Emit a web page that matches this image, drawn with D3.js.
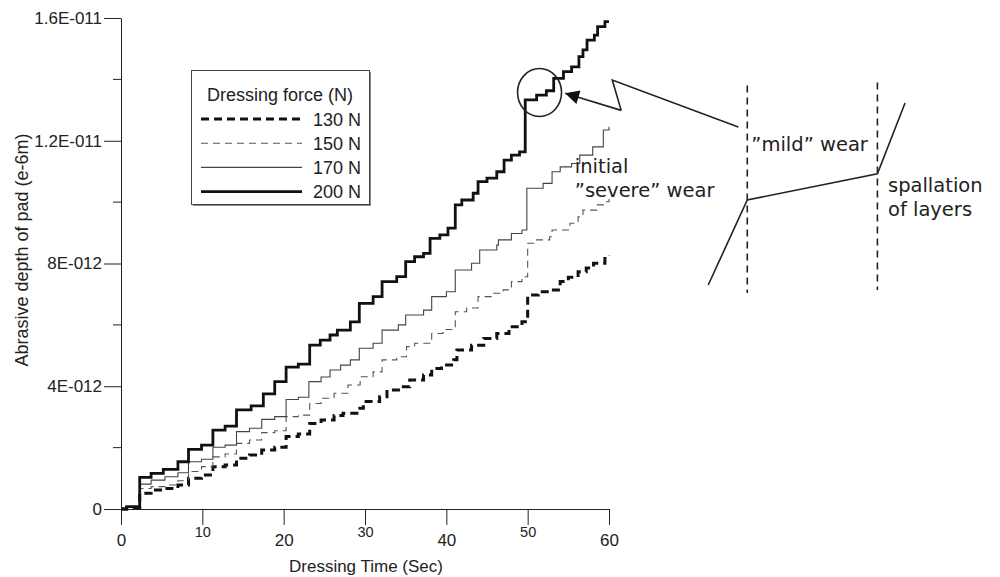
<!DOCTYPE html>
<html><head><meta charset="utf-8">
<script src="https://cdn.jsdelivr.net/npm/d3@7"></script>
<style>body{margin:0;background:#fff}svg{display:block}</style>
</head><body><svg id="c" width="1000" height="577"></svg>
<script>
// values in units of 1E-012 (e-6m)
const seriesNames = ["130 N", "150 N", "170 N", "200 N"];

const t130 = [0,0.7,2.3,3.7,5.4,7.0,8.3,9.9,11.3,12.8,14.2,15.8,17.3,18.9,20.3,21.8,23.2,24.6,26.2,27.3,29.0,29.8,31.8,32.7,34.5,35.5,37.2,38.2,39.4,40.9,41.3,43.1,44.6,46.2,47.7,49.3,50.0,51.3,52.7,54.0,55.0,56.2,57.2,58.1,59.5,60];
const v130 = [0,0.04,0.51,0.62,0.67,0.78,1.00,1.11,1.38,1.43,1.65,1.76,1.92,2.01,2.36,2.44,2.79,2.90,3.05,3.12,3.28,3.50,3.66,3.88,3.98,4.20,4.37,4.58,4.69,4.86,5.18,5.34,5.56,5.72,5.94,6.10,6.97,7.08,7.14,7.41,7.55,7.73,7.85,8.01,8.22,8.25];

const t150 = [0,0.7,2.3,3.7,5.4,7.0,8.3,9.9,11.3,12.8,14.2,15.8,17.3,18.9,20.3,21.8,23.2,24.6,26.2,27.9,29.4,31.0,32.1,33.9,35.1,36.1,38.2,39.6,41.1,42.5,43.9,45.5,47.0,48.0,49.3,50.0,51.1,52.7,53.0,55.2,56.2,56.8,58.5,59.3,60];
const v150 = [0,0.05,0.67,0.73,0.78,0.92,1.22,1.38,1.70,1.79,2.14,2.25,2.49,2.55,3.01,3.06,3.44,3.61,3.77,4.04,4.31,4.47,4.86,4.96,5.29,5.40,5.72,5.85,6.43,6.55,6.92,7.03,7.14,7.41,7.57,8.66,8.77,8.87,9.09,9.31,9.52,9.74,9.91,10.01,10.10];

const t170 = [0,0.7,2.3,3.7,5.4,7.0,8.3,9.9,11.3,12.8,14.2,15.8,17.3,18.9,20.3,21.8,23.1,24.6,25.7,27.0,28.2,29.3,31.0,32.1,34.1,35.0,37.2,38.2,40.0,41.1,43.1,44.1,46.2,46.4,48.0,49.3,49.9,51.9,53.0,54.0,55.4,56.4,58.0,59.3,60];
const v170 = [0,0.06,0.81,0.94,1.05,1.18,1.54,1.62,2.01,2.08,2.52,2.63,2.92,3.01,3.57,3.64,4.15,4.30,4.53,4.69,4.86,5.24,5.40,5.83,6.00,6.32,6.48,6.92,7.08,7.79,8.01,8.44,8.60,8.77,8.98,9.09,10.45,10.61,10.99,11.15,11.26,11.53,11.80,12.35,12.46];

const t200 = [0,0.7,2.3,3.7,5.2,7.0,8.3,9.9,11.3,12.8,14.2,16.0,17.5,18.9,20.3,21.8,23.2,24.5,25.7,26.6,28.2,29.3,31.0,32.1,33.9,35.0,36.1,37.2,38.0,39.2,40.2,41.1,41.9,43.3,43.9,45.0,46.2,47.1,48.0,49.0,49.7,51.1,52.3,53.2,54.4,55.4,56.3,56.8,57.3,58.2,58.6,59.5,60];
const v200 = [0,0.08,1.03,1.16,1.29,1.54,1.94,2.08,2.57,2.70,3.23,3.36,3.75,4.15,4.62,4.72,5.34,5.50,5.67,5.83,6.10,6.70,6.92,7.41,7.57,8.06,8.22,8.33,8.82,8.93,9.15,9.91,10.07,10.29,10.67,10.78,10.99,11.37,11.53,11.64,13.33,13.49,13.63,14.03,14.25,14.41,14.74,14.96,15.28,15.44,15.72,15.88,15.88];

const xTicks = [0, 10, 20, 30, 40, 50, 60];
const xTickLabels = ["0", "10", "20", "30", "40", "50", "60"];
const yTicks = [0, 4, 8, 12, 16];
const yTickLabels = ["0", "4E-012", "8E-012", "1.2E-011", "1.6E-011"];
const yMinorTicks = [2, 6, 10, 14];

const xTitle = "Dressing Time (Sec)";
const yTitle = "Abrasive depth of pad (e-6m)";
const legendTitle = "Dressing force (N)";

// annotation geometry in data units (time, 1E-012)
const circleCenter = [51.46, 13.57];
const arrowPath = [[75.9, 12.45], [60.4, 13.98], [61.5, 12.99], [54.6, 13.55]];
const dashedLines = [[77.0, 13.8, 7.04], [93.0, 13.9, 7.14]];
const schematic = [[72.2, 7.30], [77.0, 10.07], [93.0, 10.92], [96.4, 13.23]];
const notes = [
  {text: "initial", at: [55.8, 10.95]},
  {text: "\u201Dsevere\u201D wear", at: [55.8, 10.17]},
  {text: "\u201Dmild\u201D wear", at: [77.5, 11.66]},
  {text: "spallation", at: [94.3, 10.33]},
  {text: "of layers", at: [94.3, 9.55]}
];

const styles = {
  "130 N": {stroke: "#111", width: 3, dash: "8,5"},
  "150 N": {stroke: "#555", width: 1.1, dash: "7,5"},
  "170 N": {stroke: "#444", width: 1.1, dash: null},
  "200 N": {stroke: "#111", width: 2.8, dash: null}
};

const series = [
  {name: "130 N", t: t130, v: v130},
  {name: "150 N", t: t150, v: v150},
  {name: "170 N", t: t170, v: v170},
  {name: "200 N", t: t200, v: v200}
];

const svg = d3.select("#c");
const x = d3.scaleLinear().domain([0, 60]).range([121, 609]);
const y = d3.scaleLinear().domain([0, 16]).range([509, 18]);
const font = "'Liberation Sans', Arial, sans-serif";

// axes
const gx = svg.append("g").attr("transform", `translate(0,${y(0)})`)
  .call(d3.axisBottom(x).tickValues(xTicks).tickSize(16).tickSizeOuter(0)
    .tickFormat((d, i) => xTickLabels[i]));
gx.selectAll("text").attr("dy", null).attr("font-family", font).attr("fill", "#222")
  .attr("y", (d, i) => i % 2 ? 28 : 37)
  .attr("font-size", (d, i) => i % 2 ? 14.5 : 17);

const gy = svg.append("g").attr("transform", `translate(${x(0)},0)`)
  .call(d3.axisLeft(y).tickValues(yTicks).tickSize(17).tickPadding(2).tickSizeOuter(0)
    .tickFormat((d, i) => yTickLabels[i]));
gy.selectAll("text").attr("font-family", font).attr("font-size", 17).attr("fill", "#222");
gy.selectAll(".minor").data(yMinorTicks).enter().append("line")
  .attr("x1", -8).attr("x2", 0).attr("y1", d => y(d)).attr("y2", d => y(d))
  .attr("stroke", "#222");
svg.selectAll(".domain, .tick line").attr("stroke", "#222");

svg.append("text").attr("x", 366).attr("y", 572).attr("text-anchor", "middle")
  .attr("font-family", font).attr("font-size", 17).attr("fill", "#222").text(xTitle);
svg.append("text").attr("transform", "translate(28,250) rotate(-90)").attr("text-anchor", "middle")
  .attr("font-family", font).attr("font-size", 18).attr("fill", "#222").text(yTitle);

// series
const line = d3.line().x(d => x(d[0])).y(d => y(d[1])).curve(d3.curveStepAfter);
series.forEach(s => {
  const st = styles[s.name];
  svg.append("path").datum(s.t.map((t, i) => [t, s.v[i]]))
    .attr("d", line).attr("fill", "none")
    .attr("stroke", st.stroke).attr("stroke-width", st.width)
    .attr("stroke-dasharray", st.dash).attr("stroke-linejoin", "miter");
});

// legend
const lg = svg.append("g");
lg.append("rect").attr("x", 193).attr("y", 72).attr("width", 178).attr("height", 134).attr("fill", "#888");
lg.append("rect").attr("x", 191.5).attr("y", 70.5).attr("width", 178).attr("height", 134)
  .attr("fill", "#fff").attr("stroke", "#444").attr("stroke-width", 1);
lg.append("text").attr("x", 207).attr("y", 101).attr("font-family", font).attr("font-size", 18)
  .attr("fill", "#222").text(legendTitle);
seriesNames.forEach((n, i) => {
  const st = styles[n];
  const yy = 119 + i * 24.2;
  lg.append("line").attr("x1", 201).attr("x2", 302).attr("y1", yy).attr("y2", yy)
    .attr("stroke", st.stroke).attr("stroke-width", st.width)
    .attr("stroke-dasharray", st.dash);
  lg.append("text").attr("x", 313).attr("y", yy + 6.5).attr("font-family", font).attr("font-size", 18)
    .attr("fill", "#222").text(n);
});

// annotations
const ann = svg.append("g").attr("stroke", "#222").attr("fill", "none").attr("stroke-width", 1.6);
ann.append("ellipse").attr("cx", x(circleCenter[0])).attr("cy", y(circleCenter[1]))
  .attr("rx", 22).attr("ry", 24);
svg.append("defs").append("marker").attr("id", "ah").attr("viewBox", "0 0 10 10")
  .attr("refX", 10).attr("refY", 5).attr("markerWidth", 16).attr("markerHeight", 14)
  .attr("markerUnits", "userSpaceOnUse").attr("orient", "auto")
  .append("path").attr("d", "M0,0L10,5L0,10Z").attr("fill", "#111").attr("stroke", "none");
const arrowLine = d3.line().x(d => x(d[0])).y(d => y(d[1]));
ann.append("path").attr("d", arrowLine(arrowPath.slice(0, 3))).attr("stroke-linejoin", "miter");
ann.append("line")
  .attr("x1", x(arrowPath[2][0])).attr("y1", y(arrowPath[2][1]))
  .attr("x2", x(arrowPath[3][0])).attr("y2", y(arrowPath[3][1]))
  .attr("marker-end", "url(#ah)");
dashedLines.forEach(d => {
  ann.append("line").attr("x1", x(d[0])).attr("x2", x(d[0])).attr("y1", y(d[1])).attr("y2", y(d[2]))
    .attr("stroke-dasharray", "7,5");
});
ann.append("path").attr("d", arrowLine(schematic));
notes.forEach(n => {
  svg.append("text").attr("x", x(n.at[0])).attr("y", y(n.at[1]))
    .attr("font-family", "'DejaVu Sans', Verdana, sans-serif").attr("font-size", 19.5)
    .attr("fill", "#222").text(n.text);
});
</script></body></html>
